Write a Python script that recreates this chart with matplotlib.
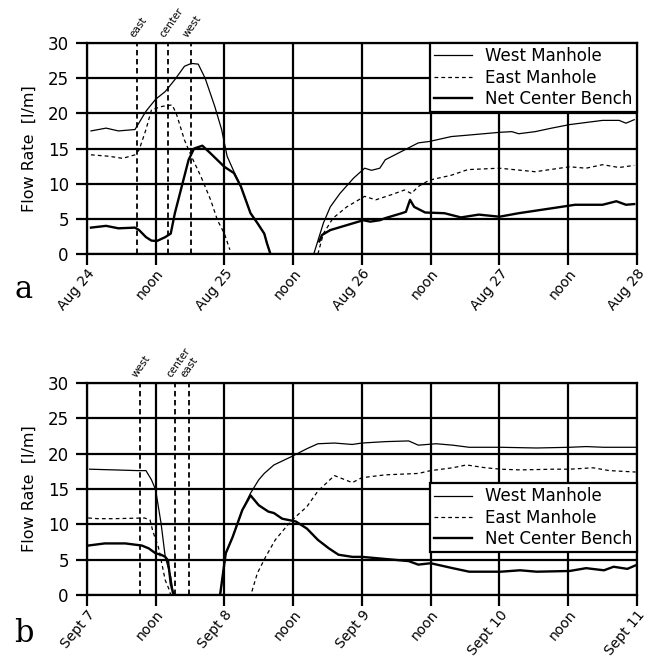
import matplotlib
matplotlib.use("Agg")
import matplotlib.pyplot as plt
import numpy as np

nan = np.nan

# days since start of each panel; nan breaks the line where flow stopped
a_west_t = [0.03, 0.14, 0.23, 0.35, 0.43, 0.50, 0.57, 0.64, 0.71, 0.76, 0.81, 0.86, 0.93,
            0.98, 1.02, 1.07, 1.12, 1.19, 1.24, 1.29, 1.31, 1.335, nan,
            1.65, 1.72, 1.77, 1.84, 1.94, 2.02, 2.07, 2.13, 2.17, 2.29, 2.41, 2.49, 2.65,
            2.77, 3.0, 3.09, 3.14, 3.26, 3.38, 3.51, 3.63, 3.75, 3.87, 3.92, 3.98]
a_west_v = [17.5, 17.9, 17.5, 17.7, 20.3, 22.0, 23.1, 24.8, 26.7, 27.1, 27.0, 25.0, 21.0,
            17.7, 13.9, 11.7, 9.6, 5.8, 4.4, 2.9, 1.5, 0, nan,
            0, 4.4, 6.7, 8.6, 10.8, 12.2, 11.9, 12.2, 13.4, 14.6, 15.8, 16.0, 16.7,
            16.9, 17.3, 17.4, 17.1, 17.4, 17.9, 18.4, 18.7, 19.0, 19.0, 18.6, 19.1]

a_east_t = [0.03, 0.16, 0.26, 0.35, 0.38, 0.43, 0.47, 0.55, 0.62, 0.65, 0.71, 0.76, 0.83,
            0.90, 0.95, 1.0, 1.04, nan,
            1.68, 1.72, 1.79, 1.89, 2.02, 2.10, 2.21, 2.31, 2.36, 2.41, 2.49, 2.65, 2.77,
            3.0, 3.26, 3.51, 3.63, 3.75, 3.87, 3.98]
a_east_v = [14.1, 13.9, 13.6, 14.1, 14.8, 17.7, 20.5, 21.0, 21.2, 20.0, 16.2, 13.9, 11.0,
            7.7, 4.8, 2.9, 0.6, nan,
            0, 2.9, 5.1, 6.7, 8.2, 7.7, 8.4, 9.1, 8.6, 9.6, 10.5, 11.2, 12.0,
            12.2, 11.7, 12.4, 12.2, 12.7, 12.3, 12.6]

a_net_t = [0.03, 0.14, 0.23, 0.35, 0.38, 0.43, 0.47, 0.51, 0.57, 0.61, 0.64, 0.69, 0.74,
           0.78, 0.84, 0.90, 1.0, 1.07, 1.12, 1.19, 1.24, 1.29, 1.31, 1.335, nan,
           1.69, 1.71, 1.77, 1.89, 2.01, 2.06, 2.13, 2.17, 2.29, 2.32, 2.35, 2.38, 2.46,
           2.60, 2.72, 2.85, 3.0, 3.14, 3.38, 3.55, 3.75, 3.85, 3.92, 3.98]
a_net_v = [3.75, 4.0, 3.65, 3.75, 3.4, 2.4, 1.9, 1.85, 2.4, 2.9, 5.8, 9.6, 13.4,
           15.0, 15.4, 14.3, 12.4, 11.5, 9.6, 5.8, 4.4, 2.9, 1.5, 0, nan,
           1.8, 2.7, 3.4, 4.1, 4.8, 4.6, 4.8, 5.1, 5.8, 6.0, 7.7, 6.7, 5.9,
           5.8, 5.2, 5.6, 5.3, 5.8, 6.5, 7.0, 7.0, 7.5, 7.0, 7.1]

b_west_t = [0.02, 0.2, 0.37, 0.43, 0.47, 0.50, 0.54, 0.57, 0.61, 0.63, nan,
            0.97, 1.01, 1.06, 1.13, 1.19, 1.25, 1.29, 1.36, 1.49, 1.60, 1.68, 1.80, 1.93,
            2.0, 2.17, 2.34, 2.41, 2.54, 2.66, 2.78, 3.01, 3.27, 3.51, 3.63, 3.76, 3.99]
b_west_v = [17.8, 17.7, 17.6, 17.6, 16.3, 14.9, 10.1, 5.4, 2.6, 0, nan,
            0, 5.9, 8.2, 12.0, 14.4, 16.3, 17.2, 18.4, 19.6, 20.7, 21.4, 21.5, 21.3,
            21.5, 21.7, 21.8, 21.2, 21.4, 21.2, 20.9, 20.9, 20.8, 20.9, 21.0, 20.9, 20.9]

b_east_t = [0.01, 0.08, 0.2, 0.42, 0.46, 0.48, 0.52, 0.55, 0.57, 0.60, 0.61, nan,
            1.20, 1.24, 1.30, 1.37, 1.46, 1.52, 1.60, 1.68, 1.80, 1.93, 2.0, 2.17, 2.41,
            2.50, 2.66, 2.76, 2.90, 3.01, 3.15, 3.39, 3.51, 3.68, 3.80, 3.99]
b_east_v = [10.9, 10.8, 10.8, 10.9, 10.6, 9.0, 6.8, 4.0, 2.1, 0.7, 0, nan,
            0.5, 3.1, 5.4, 7.8, 9.9, 11.1, 12.5, 14.7, 16.9, 15.9, 16.6, 17.0, 17.2,
            17.6, 18.0, 18.4, 18.0, 17.8, 17.7, 17.8, 17.8, 18.0, 17.6, 17.4]

b_net_t = [0.01, 0.13, 0.28, 0.40, 0.45, 0.50, 0.54, 0.57, 0.59, 0.61, 0.63, nan,
           0.97, 1.01, 1.06, 1.13, 1.19, 1.25, 1.32, 1.36, 1.42, 1.52, 1.60, 1.68, 1.76,
           1.83, 1.93, 2.0, 2.17, 2.34, 2.41, 2.50, 2.66, 2.78, 3.01, 3.15, 3.27, 3.51,
           3.63, 3.76, 3.83, 3.93, 3.99]
b_net_v = [7.0, 7.3, 7.3, 7.0, 6.6, 5.9, 5.7, 5.4, 4.9, 1.6, 0, nan,
           0.2, 5.9, 8.2, 12.0, 14.1, 12.7, 11.8, 11.6, 10.8, 10.4, 9.4, 7.8, 6.6,
           5.7, 5.4, 5.4, 5.1, 4.8, 4.3, 4.5, 3.8, 3.3, 3.3, 3.5, 3.3, 3.4,
           3.8, 3.5, 4.0, 3.7, 4.2]

a_marks = {"east": 0.364, "center": 0.589, "west": 0.756}
b_marks = {"west": 0.385, "center": 0.64, "east": 0.742}

a_ticklabels = ["Aug 24", "noon", "Aug 25", "noon", "Aug 26", "noon", "Aug 27", "noon", "Aug 28"]
b_ticklabels = ["Sept 7", "noon", "Sept 8", "noon", "Sept 9", "noon", "Sept 10", "noon", "Sept 11"]

plt.rcParams["font.family"] = "DejaVu Sans"


def panel(ax, west, east, net, marks, ticklabels, legend_top):
    ax.set_xlim(0, 4)
    ax.set_ylim(0, 30)
    ax.set_xticks(np.arange(0, 4.01, 0.5))
    ax.set_yticks(np.arange(0, 31, 5))
    ax.grid(True, color="black", lw=1.6)
    for sp in ax.spines.values():
        sp.set_linewidth(1.6)
    ax.tick_params(axis="both", length=8, width=1.6)
    ax.tick_params(axis="y", labelsize=12, pad=5)
    ax.tick_params(axis="x", pad=1)
    ax.set_xticklabels(ticklabels, rotation=50, ha="right", va="top",
                       rotation_mode="anchor", fontsize=10)
    ax.set_ylabel("Flow Rate  [l/m]", fontsize=11.5, labelpad=8)

    for name, x in marks.items():
        ax.axvline(x, color="black", lw=1.3, ls=(0, (3, 2)), zorder=3)
        ax.text(x - 0.01, 30.5, name, rotation=55, fontsize=7.5,
                ha="left", va="bottom", rotation_mode="anchor")

    l1, = ax.plot(*west, color="black", lw=0.9, label="West Manhole", zorder=4)
    l2, = ax.plot(*east, color="black", lw=0.9, ls=(0, (3, 2.5)), label="East Manhole", zorder=4)
    l3, = ax.plot(*net, color="black", lw=1.7, label="Net Center Bench", zorder=4)

    leg = ax.legend(handles=[l1, l2, l3], loc="upper right",
                    bbox_to_anchor=(1.0, legend_top), borderaxespad=0,
                    fancybox=False, framealpha=1, edgecolor="black",
                    fontsize=12, handlelength=2.3, labelspacing=0.2,
                    borderpad=0.25, handletextpad=0.8)
    leg.get_frame().set_linewidth(1.6)
    leg.set_zorder(5)


fig = plt.figure(figsize=(6.48, 6.58), dpi=100)
ax_a = fig.add_axes([0.134, 0.614, 0.849, 0.3206])
ax_b = fig.add_axes([0.134, 0.0957, 0.849, 0.3223])

panel(ax_a, (a_west_t, a_west_v), (a_east_t, a_east_v), (a_net_t, a_net_v),
      a_marks, a_ticklabels, 1.0)
panel(ax_b, (b_west_t, b_west_v), (b_east_t, b_east_v), (b_net_t, b_net_v),
      b_marks, b_ticklabels, 0.527)

fig.text(0.037, 1 - 290 / 658, "a", fontsize=22, family="DejaVu Serif",
         ha="center", va="center")
fig.text(0.037, 1 - 633 / 658, "b", fontsize=22, family="DejaVu Serif",
         ha="center", va="center")

fig.savefig("out.png", dpi=100)
